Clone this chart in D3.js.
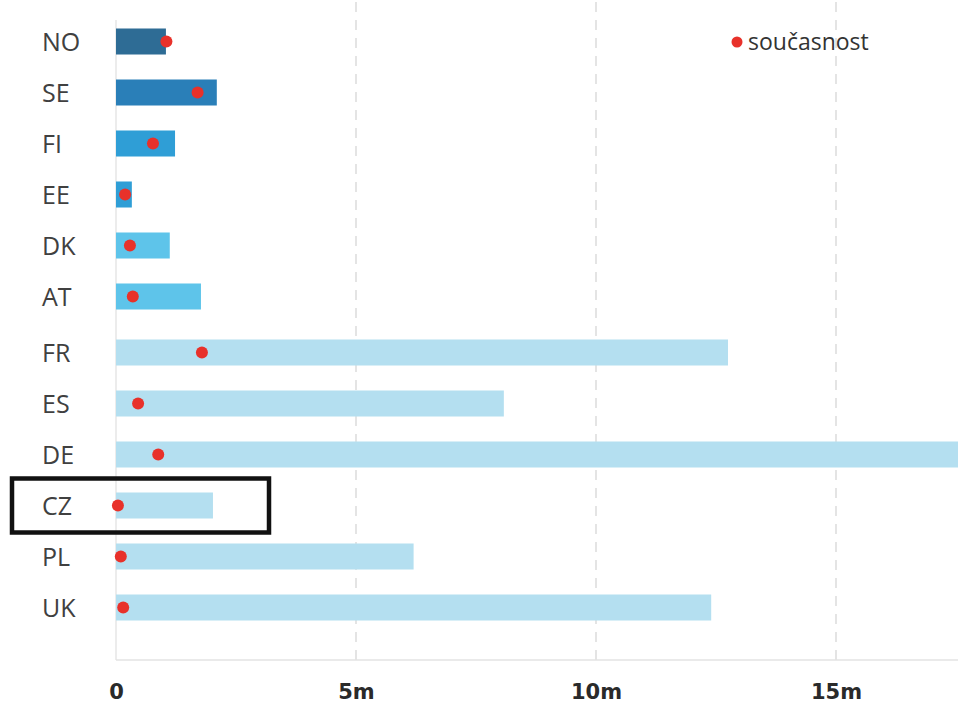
<!DOCTYPE html>
<html><head><meta charset="utf-8">
<script src="https://cdn.jsdelivr.net/npm/d3@7"></script>
<style>body{margin:0;background:#fff}svg{display:block}</style>
</head><body>
<svg id="c" width="958" height="706"></svg>
<script>
const countries = ["NO","SE","FI","EE","DK","AT","FR","ES","DE","CZ","PL","UK"];
const potential = [1.04,2.1,1.23,0.33,1.12,1.77,12.75,8.08,17.8,2.02,6.2,12.4];
const current = [1.05,1.7,0.77,0.19,0.29,0.35,1.79,0.46,0.88,0.04,0.1,0.15];
const barColors = ["#2e6c95","#2a7fb8","#2f9ed6","#2f9ed6","#5ec4ea","#5ec4ea","#b4dff0","#b4dff0","#b4dff0","#b4dff0","#b4dff0","#b4dff0"];
const tickValues = [0,5,10,15];
const tickLabels = ["0","5m","10m","15m"];
const legendLabel = "současnost";
const highlight = "CZ";

const svg = d3.select("#c");
const x = d3.scaleLinear().domain([0,17.5]).range([116,956]);
const yb = d3.scaleBand().domain(countries).range([16,628]).paddingInner(0.49).paddingOuter(0.245);
const groupGap = 5;
const y = d => yb(d) + (countries.indexOf(d) >= 6 ? groupGap : 0);
const bw = yb.bandwidth();

// gridlines
svg.append("g").selectAll("line").data(tickValues.slice(1)).join("line")
  .attr("x1",d=>x(d)).attr("x2",d=>x(d)).attr("y1",2).attr("y2",660)
  .attr("stroke","#dcdcdc").attr("stroke-width",1.5).attr("stroke-dasharray","10,8");
svg.append("line").attr("x1",x(0)).attr("x2",x(0)).attr("y1",20).attr("y2",660)
  .attr("stroke","#e6e6e6").attr("stroke-width",1.5);
svg.append("line").attr("x1",x(0)).attr("x2",958).attr("y1",660).attr("y2",660)
  .attr("stroke","#e3e3e3").attr("stroke-width",1.5);

// bars
svg.append("g").selectAll("rect").data(countries).join("rect")
  .attr("x",x(0)).attr("y",d=>y(d))
  .attr("width",(d,i)=>x(potential[i])-x(0)).attr("height",bw)
  .attr("fill",(d,i)=>barColors[i]);

// dots
svg.append("g").selectAll("circle").data(countries).join("circle")
  .attr("cx",(d,i)=>x(current[i])).attr("cy",d=>y(d)+bw/2).attr("r",6)
  .attr("fill","#e8312a");

// y labels
svg.append("g").selectAll("text").data(countries).join("text")
  .attr("x",42).attr("y",d=>y(d)+bw/2).attr("dy","0.36em").text(d=>d)
  .attr("font-family","'Open Sans',sans-serif").attr("font-size",25).attr("font-weight",500).attr("fill","#404040");

// x axis
const xAxis = d3.axisBottom(x).tickValues(tickValues).tickSize(0).tickPadding(0)
  .tickFormat((d,i)=>tickLabels[i]);
const xa = svg.append("g").attr("transform","translate(0,684)").call(xAxis);
xa.select(".domain").remove();
xa.selectAll("text").attr("font-family","'DejaVu Sans',sans-serif")
  .attr("font-weight","bold").attr("font-size",21).attr("fill","#2a2a2a");

// highlight box
svg.append("rect").attr("x",12).attr("y",y(highlight)+bw/2-27).attr("width",257).attr("height",54)
  .attr("fill","none").attr("stroke","#111").attr("stroke-width",4.5);

// legend
svg.append("circle").attr("cx",737).attr("cy",42).attr("r",5.5).attr("fill","#e8312a");
svg.append("text").attr("x",748).attr("y",50).text(legendLabel)
  .attr("font-family","'Open Sans',sans-serif").attr("font-size",23).attr("font-weight",500).attr("fill","#333");
</script>
</body></html>
